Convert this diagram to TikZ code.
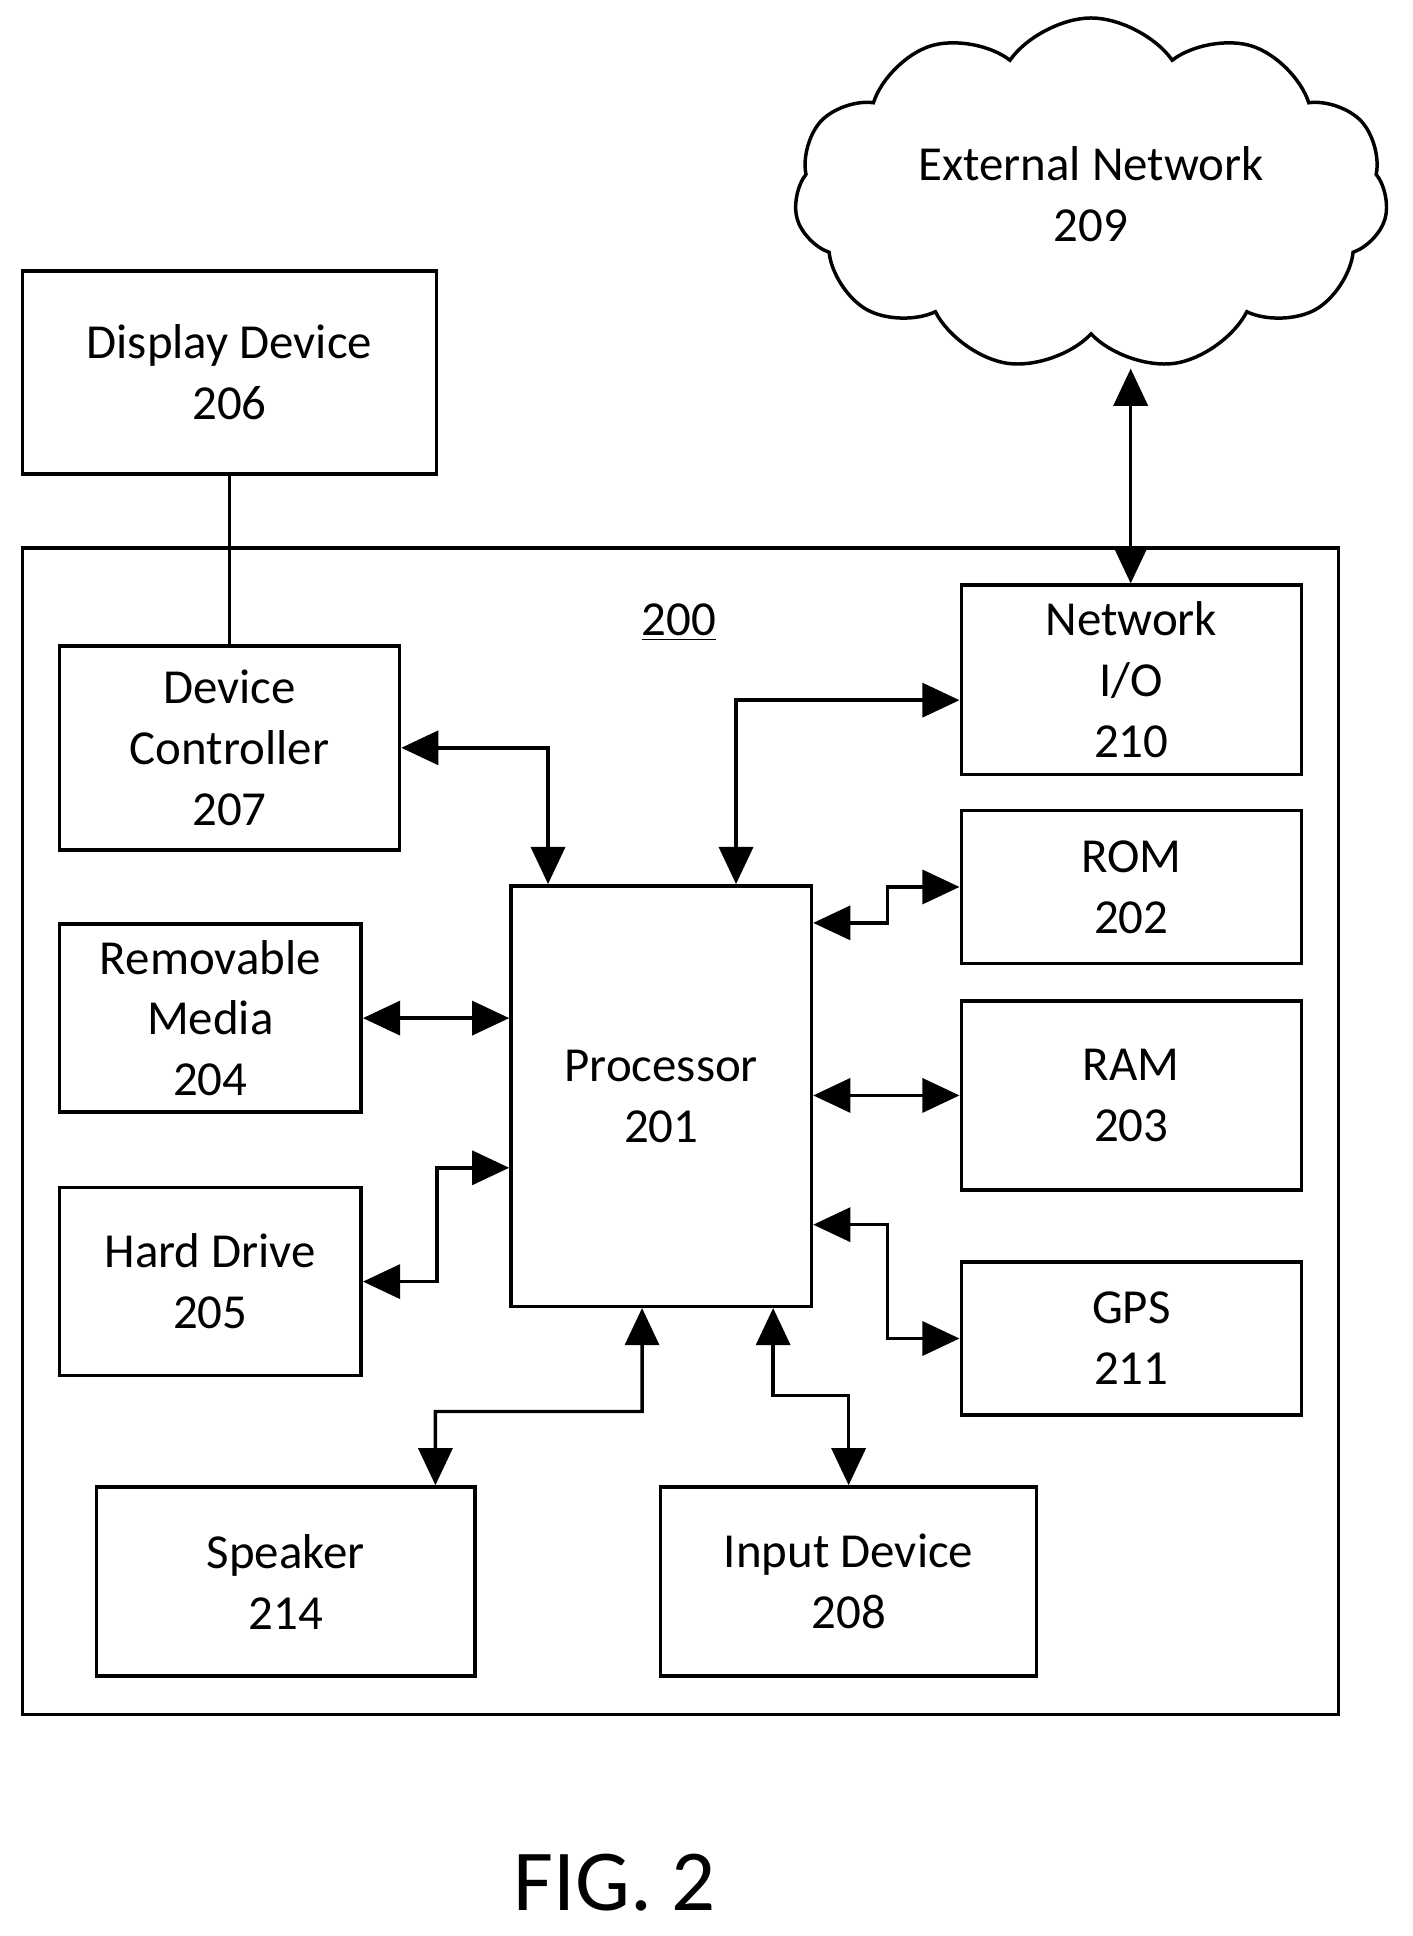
\documentclass[tikz,border=0pt]{standalone}
\usepackage{fontspec}
\setmainfont{Carlito}
\usetikzlibrary{arrows.meta,shapes.symbols}
\tikzset{blk/.style={draw,line width=1.6pt,inner sep=0pt,align=center,font=\fontsize{22.5}{28}\selectfont}}
\tikzset{conn/.style={line width=1.6pt,{Triangle[length=0.6cm,width=0.55cm]}-{Triangle[length=0.6cm,width=0.55cm]}}}

\begin{document}
\begin{tikzpicture}[x=0.02cm,y=-0.02cm]
	\useasboundingbox (0,0) rectangle (1142,1565);

	% outer device box
	\draw[line width=1.6pt] (18,443) rectangle (1082,1386);
	\node[font=\fontsize{22.5}{28}\selectfont] (lbl) at (549,503) {\underline{200}};

	% blocks
	\node[blk,minimum width=6.7cm,minimum height=3.28cm] (disp) at (185.5,301) {Display Device\\206};
	\node[blk,minimum width=5.5cm,minimum height=3.3cm] (ctrl) at (185.5,604.5) {Device\\Controller\\207};
	\node[blk,minimum width=4.88cm,minimum height=3.04cm] (rem) at (170,823) {Removable\\Media\\204};
	\node[blk,minimum width=4.88cm,minimum height=3.04cm] (hdd) at (170,1036) {Hard Drive\\205};
	\node[blk,minimum width=4.86cm,minimum height=6.8cm] (cpu) at (534.5,886) {Processor\\201};
	\node[blk,minimum width=5.5cm,minimum height=3.06cm] (net) at (914.5,549.5) {Network\\I/O\\210};
	\node[blk,minimum width=5.5cm,minimum height=2.48cm] (rom) at (914.5,717) {ROM\\202};
	\node[blk,minimum width=5.5cm,minimum height=3.06cm] (ram) at (914.5,885.5) {RAM\\203};
	\node[blk,minimum width=5.5cm,minimum height=2.48cm] (gps) at (914.5,1082) {GPS\\211};
	\node[blk,minimum width=6.12cm,minimum height=3.06cm] (spk) at (231,1278.5) {Speaker\\214};
	\node[blk,minimum width=6.08cm,minimum height=3.06cm] (inp) at (686,1278.5) {Input Device\\208};
	\node[blk,cloud,cloud puffs=11,cloud puff arc=110,aspect=1.7,minimum width=9.6cm,minimum height=5.7cm] (cloud) at (882,157) {External Network\\209};
	\coordinate (cb) at (914,298);

	% connectors
	\draw[line width=1.6pt] (disp.south) -- (ctrl.north);
	\draw[conn] (ctrl.east) -| ([xshift=-1.83cm]cpu.north);
	\draw[conn] ([yshift=-0.33cm]net.west) -| ([xshift=1.21cm]cpu.north);
	\draw[conn] ([yshift=2.8cm]cpu.east) -- ++(60,0) |- (rom.west);
	\draw[conn] (rem.east) -- (rem.east -| cpu.west);
	\draw[conn] (cpu.east |- ram.west) -- (ram.west);
	\draw[conn] (hdd.east) -- ++(60,0) |- ([yshift=-1.16cm]cpu.west);
	\draw[conn] ([yshift=-2.08cm]cpu.east) -- ++(60,0) |- (gps.west);
	\draw[conn] ([xshift=2.42cm]spk.north) |- (519,1141) -- ([xshift=-0.31cm]cpu.south);
	\draw[conn] ([xshift=1.81cm]cpu.south) |- (686,1128) -- (inp.north);
	\draw[conn] (cb) -- (net.north -| cb);

	\node[font=\fontsize{40}{44}\selectfont] (fig) at (497,1522) {FIG. 2};
\end{tikzpicture}
\end{document}
